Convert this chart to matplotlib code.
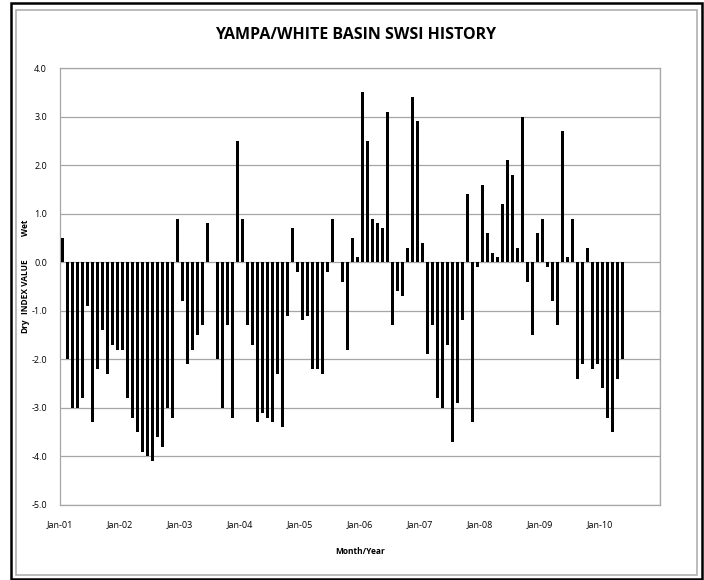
import matplotlib
matplotlib.use("Agg")
import matplotlib.pyplot as plt
from matplotlib.patches import Rectangle

# Monthly SWSI values, Jan-2001 .. May-2010
values = [
    # 2001
    0.5, -2.0, -3.0, -3.0, -2.8, -0.9, -3.3, -2.2, -1.4, -2.3, -1.7, -1.8,
    # 2002
    -1.8, -2.8, -3.2, -3.5, -3.9, -4.0, -4.1, -3.6, -3.8, -3.0, -3.2, 0.9,
    # 2003
    -0.8, -2.1, -1.8, -1.5, -1.3, 0.8, 0.0, -2.0, -3.0, -1.3, -3.2, 2.5,
    # 2004
    0.9, -1.3, -1.7, -3.3, -3.1, -3.2, -3.3, -2.3, -3.4, -1.1, 0.7, -0.2,
    # 2005
    -1.2, -1.1, -2.2, -2.2, -2.3, -0.2, 0.9, 0.0, -0.4, -1.8, 0.5, 0.1,
    # 2006
    3.5, 2.5, 0.9, 0.8, 0.7, 3.1, -1.3, -0.6, -0.7, 0.3, 3.4, 2.9,
    # 2007
    0.4, -1.9, -1.3, -2.8, -3.0, -1.7, -3.7, -2.9, -1.2, 1.4, -3.3, -0.1,
    # 2008
    1.6, 0.6, 0.2, 0.1, 1.2, 2.1, 1.8, 0.3, 3.0, -0.4, -1.5, 0.6,
    # 2009
    0.9, -0.1, -0.8, -1.3, 2.7, 0.1, 0.9, -2.4, -2.1, 0.3, -2.2, -2.1,
    # 2010
    -2.6, -3.2, -3.5, -2.4, -2.0,
]
year_labels = ["Jan-01", "Jan-02", "Jan-03", "Jan-04", "Jan-05",
               "Jan-06", "Jan-07", "Jan-08", "Jan-09", "Jan-10"]
y_ticks = [4.0, 3.0, 2.0, 1.0, 0.0, -1.0, -2.0, -3.0, -4.0, -5.0]

fam = "Open Sans"

W, H = 704, 580
fig = plt.figure(figsize=(W / 100, H / 100), dpi=100)

# outer borders
fig.patches.append(Rectangle((11 / W, 1 / H), 691 / W, 576 / H, transform=fig.transFigure,
                             fill=False, edgecolor="black", linewidth=1.8))
fig.patches.append(Rectangle((16 / W, 5 / H), 681 / W, 565 / H, transform=fig.transFigure,
                             fill=False, edgecolor="#b0b0b0", linewidth=1.2))

ax = fig.add_axes([59.5 / W, 1 - 505 / H, (660 - 59.5) / W, (505 - 68) / H])

x = [i + 0.5 for i in range(len(values))]
ax.bar(x, values, width=0.6, color="black", zorder=3)

ax.set_xlim(0, 120)
ax.set_ylim(-5.0, 4.0)
ax.set_xticks([12 * i for i in range(len(year_labels))])
ax.set_xticklabels(year_labels, fontsize=6.5, family=fam)
ax.set_xticks([12 * i for i in range(11)], minor=True)
ax.set_yticks(y_ticks)
ax.set_yticklabels([f"{v:.1f}" for v in y_ticks], fontsize=6.5, family=fam)
ax.tick_params(axis="both", which="both", length=0)
ax.tick_params(axis="x", pad=11)
ax.tick_params(axis="y", pad=9)
ax.grid(True, which="minor", axis="x", color="#a6a6a6", linewidth=0.9, zorder=0)
ax.grid(True, which="major", axis="y", color="#a6a6a6", linewidth=0.9, zorder=0)
for s in ax.spines.values():
    s.set_color("#a6a6a6")
    s.set_linewidth(0.9)

fig.text(356 / W, 1 - 35 / H, "YAMPA/WHITE BASIN SWSI HISTORY",
         ha="center", va="center", fontsize=11.5, fontweight="bold", family=fam)
fig.text(360 / W, 1 - 552 / H, "Month/Year", ha="center", va="center",
         fontsize=6, fontweight="bold", family=fam)
for label, yc in [("Wet", 228), ("INDEX VALUE", 287), ("Dry", 326)]:
    fig.text(25 / W, 1 - yc / H, label, ha="center", va="center", rotation=90,
             fontsize=6, fontweight="bold", family=fam)

fig.savefig("out.png", dpi=100)
